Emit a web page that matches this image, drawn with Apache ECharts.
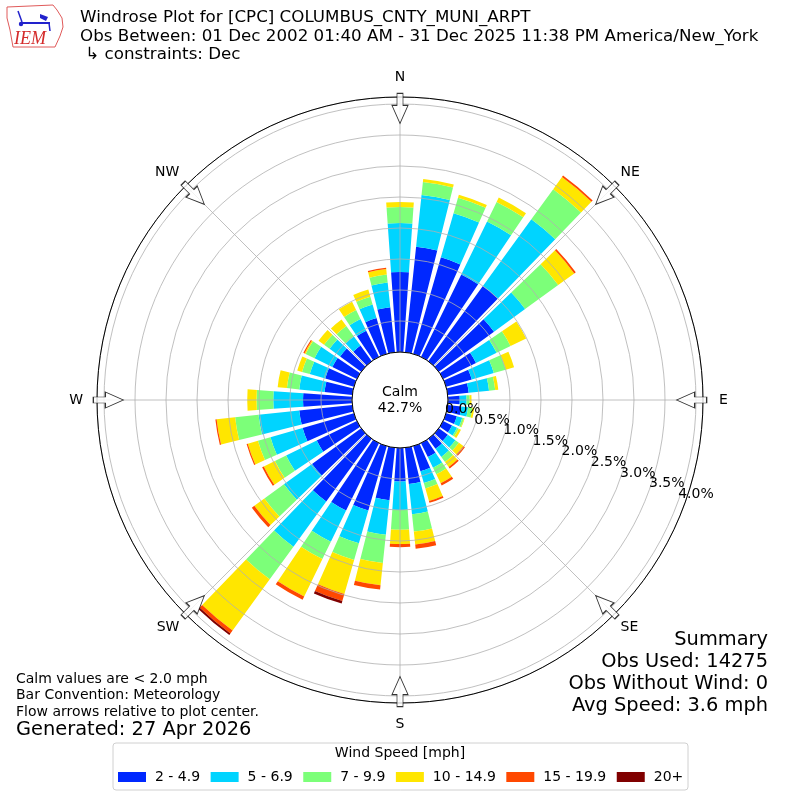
<!DOCTYPE html>
<html>
<head>
<meta charset="utf-8">
<title>Windrose Plot</title>
<script src="https://cdn.jsdelivr.net/npm/echarts@6.0.0/dist/echarts.min.js"></script>
<style>
html, body { margin: 0; padding: 0; background: #fff; }
#main { width: 800px; height: 800px; }
</style>
</head>
<body>
<div id="main"></div>
<script>
// direction bins, degrees the wind blows from
var directions = [0, 10, 20, 30, 40, 50, 60, 70, 80, 90, 100, 110, 120, 130, 140, 150, 160, 170,
	180, 190, 200, 210, 220, 230, 240, 250, 260, 270, 280, 290, 300, 310, 320, 330, 340, 350];
var speedBins = ['2 - 4.9', '5 - 6.9', '7 - 9.9', '10 - 14.9', '15 - 19.9', '20+'];
var binColors = ['#0028ff', '#00d4ff', '#7cff79', '#ffe600', '#ff4800', '#800000'];

// percent of all obs, one value per direction bin
var spd2to5 = [1.29, 1.71, 1.62, 1.48, 1.50, 1.10, 0.59, 0.43, 0.34, 0.19, 0.22, 0.18, 0.16, 0.18, 0.20, 0.25, 0.42, 0.59,
	0.54, 0.85, 1.08, 1.21, 1.25, 0.98, 0.72, 0.86, 0.86, 0.79, 0.45, 0.48, 0.44, 0.42, 0.31, 0.47, 0.60, 0.73];
var spd5to7 = [0.79, 0.84, 0.74, 0.95, 1.33, 0.62, 0.37, 0.37, 0.33, 0.11, 0.11, 0.09, 0.09, 0.15, 0.16, 0.19, 0.20, 0.49,
	0.46, 0.56, 0.55, 0.56, 0.90, 0.56, 0.55, 0.54, 0.66, 0.48, 0.41, 0.26, 0.32, 0.21, 0.18, 0.21, 0.23, 0.40];
var spd7to10 = [0.26, 0.21, 0.26, 0.35, 0.60, 0.66, 0.25, 0.20, 0.10, 0.05, 0.07, 0.03, 0.03, 0.07, 0.10, 0.12, 0.09, 0.28,
	0.32, 0.46, 0.28, 0.31, 0.65, 0.39, 0.20, 0.21, 0.38, 0.27, 0.20, 0.13, 0.16, 0.11, 0.21, 0.16, 0.13, 0.13];
var spd10to15 = [0.08, 0.05, 0.05, 0.08, 0.24, 0.32, 0.28, 0.14, 0.05, 0.03, 0.03, 0.01, 0.04, 0.09, 0.10, 0.16, 0.21, 0.21,
	0.23, 0.36, 0.57, 0.67, 1.02, 0.20, 0.20, 0.17, 0.30, 0.15, 0.15, 0.08, 0.02, 0.11, 0.13, 0.15, 0.12, 0.09];
var spd15to20 = [0, 0, 0, 0, 0.03, 0.03, 0, 0, 0, 0, 0, 0, 0, 0.03, 0.03, 0.04, 0.03, 0.07,
	0.05, 0.07, 0.12, 0.06, 0.06, 0.05, 0.03, 0.02, 0.02, 0, 0, 0, 0.02, 0, 0, 0, 0, 0.02];
var spd20up = [0, 0, 0, 0, 0, 0, 0, 0, 0, 0, 0, 0, 0, 0, 0, 0, 0, 0,
	0, 0, 0.04, 0, 0.03, 0, 0, 0, 0, 0, 0, 0, 0, 0, 0, 0, 0, 0];

var compassLabels = ['N', 'NE', 'E', 'SE', 'S', 'SW', 'W', 'NW'];
var compassAngles = [0, 45, 90, 135, 180, 225, 270, 315];

var calmPercent = 42.7;
var summaryLines = ['Summary', 'Obs Used: 14275', 'Obs Without Wind: 0', 'Avg Speed: 3.6 mph'];
var noteLines = ['Calm values are < 2.0 mph', 'Bar Convention: Meteorology', 'Flow arrows relative to plot center.'];

var font = 'DejaVu Sans';
var rMax = 4.113;
var gridColor = '#b0b0b0';

function barSeries(name, values, color) {
	return {
		name: name,
		type: 'bar',
		coordinateSystem: 'polar',
		polarIndex: 0,
		stack: 'speed',
		barWidth: '80%',
		silent: true,
		z: 2,
		itemStyle: { color: color },
		// empty bins are left out so no hairline sector is painted
		data: values.map(function (v) { return v > 0 ? v : '-'; })
	};
}

function txt(x, y, s, size, align, extra) {
	var style = {
		text: s,
		fontSize: size,
		fontFamily: font,
		fill: '#000',
		align: align || 'left',
		verticalAlign: 'middle'
	};
	if (extra) {
		for (var k in extra) style[k] = extra[k];
	}
	return { type: 'text', x: x, y: y, silent: true, style: style };
}

// ring label axis; "which" picks the zero label or the rest,
// split in two so the overlapping 0.0% / 0.5% pair both stay visible
function ringLabelAxis(polarIndex, zeroOnly) {
	return {
		polarIndex: polarIndex,
		min: 0,
		max: rMax,
		interval: 0.5,
		z: 6,
		axisLine: { show: false },
		axisTick: { show: false },
		splitLine: { show: false },
		axisLabel: {
			margin: 0,
			align: 'left',
			verticalAlign: 'bottom',
			fontSize: 14,
			fontFamily: font,
			color: '#000',
			hideOverlap: false,
			showMinLabel: zeroOnly,
			showMaxLabel: false,
			formatter: function (v) {
				if ((v === 0) !== zeroOnly) return '';
				return v.toFixed(1) + '%';
			}
		}
	};
}

var graphics = [];
// IEM logo
graphics.push({
	type: 'polygon', silent: true,
	shape: { points: [[7, 7], [53, 5], [57, 10], [62, 18], [63, 27], [60, 36], [55, 47], [13, 47], [10, 30], [7, 18]] },
	style: { fill: '#fff', stroke: '#e05a5a', lineWidth: 1 }
});
graphics.push({ type: 'line', silent: true, shape: { x1: 22, y1: 23, x2: 50, y2: 23 }, style: { stroke: '#2222cc', lineWidth: 2 } });
graphics.push({ type: 'line', silent: true, shape: { x1: 18, y1: 11, x2: 22, y2: 22 }, style: { stroke: '#2222cc', lineWidth: 1.5 } });
graphics.push({ type: 'polygon', silent: true, shape: { points: [[40, 14], [48, 17], [46, 21], [40, 18]] }, style: { fill: '#2222cc' } });
graphics.push({ type: 'line', silent: true, shape: { x1: 49, y1: 23, x2: 50, y2: 31 }, style: { stroke: '#2222cc', lineWidth: 1.5 } });
graphics.push({ type: 'circle', silent: true, shape: { cx: 21, cy: 24, r: 2.2 }, style: { fill: '#2222cc' } });
graphics.push(txt(30, 39, 'IEM', 18, 'center', { fontFamily: 'Liberation Serif', fontStyle: 'italic', fill: '#d42a2a' }));

// title block
graphics.push(txt(80, 18, 'Windrose Plot for [CPC] COLUMBUS_CNTY_MUNI_ARPT', 16.7));
graphics.push(txt(80, 37, 'Obs Between: 01 Dec 2002 01:40 AM - 31 Dec 2025 11:38 PM America/New_York', 16.7));
graphics.push(txt(80, 55, ' \u21b3 constraints: Dec', 16.7));

// calm in the middle
graphics.push(txt(400, 392, 'Calm', 14, 'center'));
graphics.push(txt(400, 408, calmPercent.toFixed(1) + '%', 14, 'center'));

// notes and summary
for (var i = 0; i < noteLines.length; i++) {
	graphics.push(txt(16, 679 + i * 16.5, noteLines[i], 14));
}
graphics.push(txt(16, 730, 'Generated: 27 Apr 2026', 19.4));
for (var j = 0; j < summaryLines.length; j++) {
	graphics.push(txt(768, 640 + j * 22, summaryLines[j], 19.4, 'right'));
}

// legend frame
graphics.push({
	type: 'rect', silent: true, z: -1,
	shape: { x: 113, y: 743, width: 575, height: 47, r: 3 },
	style: { fill: '#fff', stroke: '#d0d0d0', lineWidth: 1 }
});
graphics.push(txt(400, 753, 'Wind Speed [mph]', 14, 'center'));

var series = [
	barSeries(speedBins[0], spd2to5, binColors[0]),
	barSeries(speedBins[1], spd5to7, binColors[1]),
	barSeries(speedBins[2], spd7to10, binColors[2]),
	barSeries(speedBins[3], spd10to15, binColors[3]),
	barSeries(speedBins[4], spd15to20, binColors[4]),
	barSeries(speedBins[5], spd20up, binColors[5]),
	{
		// flow arrows on the rim
		type: 'scatter',
		coordinateSystem: 'polar',
		polarIndex: 1,
		silent: true,
		z: 10,
		symbol: 'path://M5,0 L11,0 L11,12 L16,12 L8,30 L0,12 L5,12 Z',
		symbolSize: [16, 30],
		symbolRotate: function (val) { return -val[1]; },
		itemStyle: { color: '#fff', borderColor: '#000', borderWidth: 1 },
		data: compassAngles.map(function (a) { return [3.93, a]; })
	}
];

var option = {
	backgroundColor: '#fff',
	animation: false,
	polar: [
		{ center: [400, 400], radius: [48, 303] },
		{ center: [400, 400], radius: [48, 303] },
		{ center: [400, 400], radius: [48, 303] },
		{ center: [400, 400], radius: [48, 303] }
	],
	angleAxis: [{
		polarIndex: 0,
		type: 'category',
		data: directions,
		startAngle: 95,
		clockwise: true,
		axisLine: { show: false },
		axisTick: { show: false },
		axisLabel: { show: false },
		splitLine: { show: false }
	}, {
		polarIndex: 1,
		type: 'value',
		min: 0,
		max: 360,
		interval: 45,
		startAngle: 90,
		clockwise: true,
		z: 5,
		axisLine: { lineStyle: { color: '#000', width: 1 } },
		axisTick: { show: false },
		axisLabel: {
			margin: 9,
			fontSize: 14,
			fontFamily: font,
			color: '#000',
			formatter: function (v) {
				var k = compassAngles.indexOf(v);
				if (k < 0) return '';
				var s = compassLabels[k];
				if (s.length === 1) return '{' + s.toLowerCase() + '|' + s + '}';
				return s;
			},
			rich: {
				n: { fontSize: 14, fontFamily: font, padding: [0, 0, 4, 0] },
				s: { fontSize: 14, fontFamily: font, padding: [5, 0, 0, 0] },
				e: { fontSize: 14, fontFamily: font, padding: [0, 0, 0, 7] },
				w: { fontSize: 14, fontFamily: font, padding: [0, 5, 0, 0] }
			}
		},
		splitLine: { lineStyle: { color: gridColor, width: 0.8 } }
	}, {
		polarIndex: 2,
		type: 'value',
		min: 0,
		max: 360,
		startAngle: -20,
		show: false
	}, {
		polarIndex: 3,
		type: 'value',
		min: 0,
		max: 360,
		startAngle: -20,
		show: false
	}],
	radiusAxis: [{
		polarIndex: 0,
		min: 0,
		max: rMax,
		show: false
	}, {
		polarIndex: 1,
		min: 0,
		max: rMax,
		interval: 0.5,
		z: 5,
		axisLine: { show: false },
		axisTick: { show: false },
		axisLabel: { show: false },
		splitLine: { lineStyle: { color: gridColor, width: 0.8 } }
	},
		ringLabelAxis(2, false),
		ringLabelAxis(3, true)
	],
	legend: {
		data: speedBins,
		left: 113,
		top: 765,
		itemWidth: 28,
		itemHeight: 10,
		itemGap: 10.5,
		icon: 'rect',
		selectedMode: false,
		textStyle: { fontSize: 14, fontFamily: font, color: '#000', padding: [0, 0, 0, 4] }
	},
	graphic: graphics,
	series: series
};

var chart = echarts.init(document.getElementById('main'));
chart.setOption(option);
</script>
</body>
</html>
